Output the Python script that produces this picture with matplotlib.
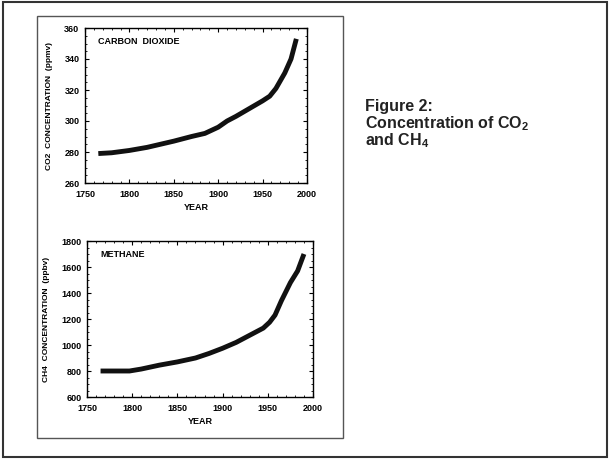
import matplotlib.pyplot as plt
from matplotlib.patches import Rectangle

# datos
co2_years = [1765, 1780, 1800, 1820, 1850, 1870, 1885, 1900, 1910, 1920, 1935, 1950, 1958, 1965, 1975, 1982, 1988]
co2_ppmv = [279, 279.5, 281, 283, 287, 290, 292, 296, 300, 303, 308, 313, 316, 321, 331, 340, 353]

ch4_years = [1765, 1780, 1797, 1810, 1830, 1850, 1870, 1885, 1900, 1915, 1930, 1945, 1952, 1958, 1965, 1975, 1983, 1990]
ch4_ppbv = [800, 800, 800, 815, 845, 870, 900, 935, 975, 1020, 1075, 1130, 1175, 1230, 1340, 1480, 1570, 1700]

plt.rcParams['font.family'] = ['Liberation Sans', 'DejaVu Sans']
plt.rcParams['mathtext.fontset'] = 'custom'
plt.rcParams['mathtext.rm'] = 'Liberation Sans:bold'
plt.rcParams['mathtext.bf'] = 'Liberation Sans:bold'

fig = plt.figure(figsize=(6.1, 4.61), dpi=100)

# marcos
fig.patches.append(Rectangle((3/610, 1 - 457/461), 604/610, 455/461, transform=fig.transFigure,
                             fill=False, edgecolor='#333333', linewidth=1.5))
fig.patches.append(Rectangle((37/610, 1 - 438/461), 306/610, 422/461, transform=fig.transFigure,
                             fill=False, edgecolor='#555555', linewidth=1.0))

def panel(rect, x, y, ylim, yticks, name, ylabel):
    ax = fig.add_axes(rect)
    ax.plot(x, y, color='#111111', linewidth=3.5, solid_capstyle='butt')
    ax.set_xlim(1750, 2000)
    ax.set_ylim(*ylim)
    ax.set_xticks([1750, 1800, 1850, 1900, 1950, 2000])
    ax.set_yticks(yticks)
    ax.minorticks_on()
    ax.tick_params(which='both', direction='in', top=True, right=True, labelsize=6.5)
    ax.tick_params(axis='x', pad=5)
    ax.tick_params(axis='y', pad=4)
    ax.tick_params(which='major', length=3)
    ax.tick_params(which='minor', length=1.5)
    for lab in ax.get_xticklabels() + ax.get_yticklabels():
        lab.set_fontweight('bold')
    ax.set_xlabel('YEAR', fontsize=6.5, fontweight='bold', labelpad=3)
    ax.set_ylabel(ylabel, fontsize=6, fontweight='bold', labelpad=8)
    ax.text(0.06, 0.9, name, transform=ax.transAxes, fontsize=6.5, fontweight='bold')
    for s in ax.spines.values():
        s.set_linewidth(1.0)
    return ax

panel([85/610, 1 - 183/461, 222/610, 155/461], co2_years, co2_ppmv, (260, 360),
      [260, 280, 300, 320, 340, 360], 'CARBON  DIOXIDE', 'CO2  CONCENTRATION  (ppmv)')
panel([87/610, 1 - 397/461, 226/610, 156/461], ch4_years, ch4_ppbv, (600, 1800),
      [600, 800, 1000, 1200, 1400, 1600, 1800], 'METHANE', 'CH4  CONCENTRATION  (ppbv)')

fig.text(365/610, 1 - 111/461, 'Figure 2:', fontsize=11.5, fontweight='bold', color='#222222')
fig.text(365/610, 1 - 128/461, 'Concentration of CO$_{2}$', fontsize=11.5, fontweight='bold', color='#222222')
fig.text(365/610, 1 - 145/461, 'and CH$_{4}$', fontsize=11.5, fontweight='bold', color='#222222')

plt.savefig('out.png', dpi=100)
